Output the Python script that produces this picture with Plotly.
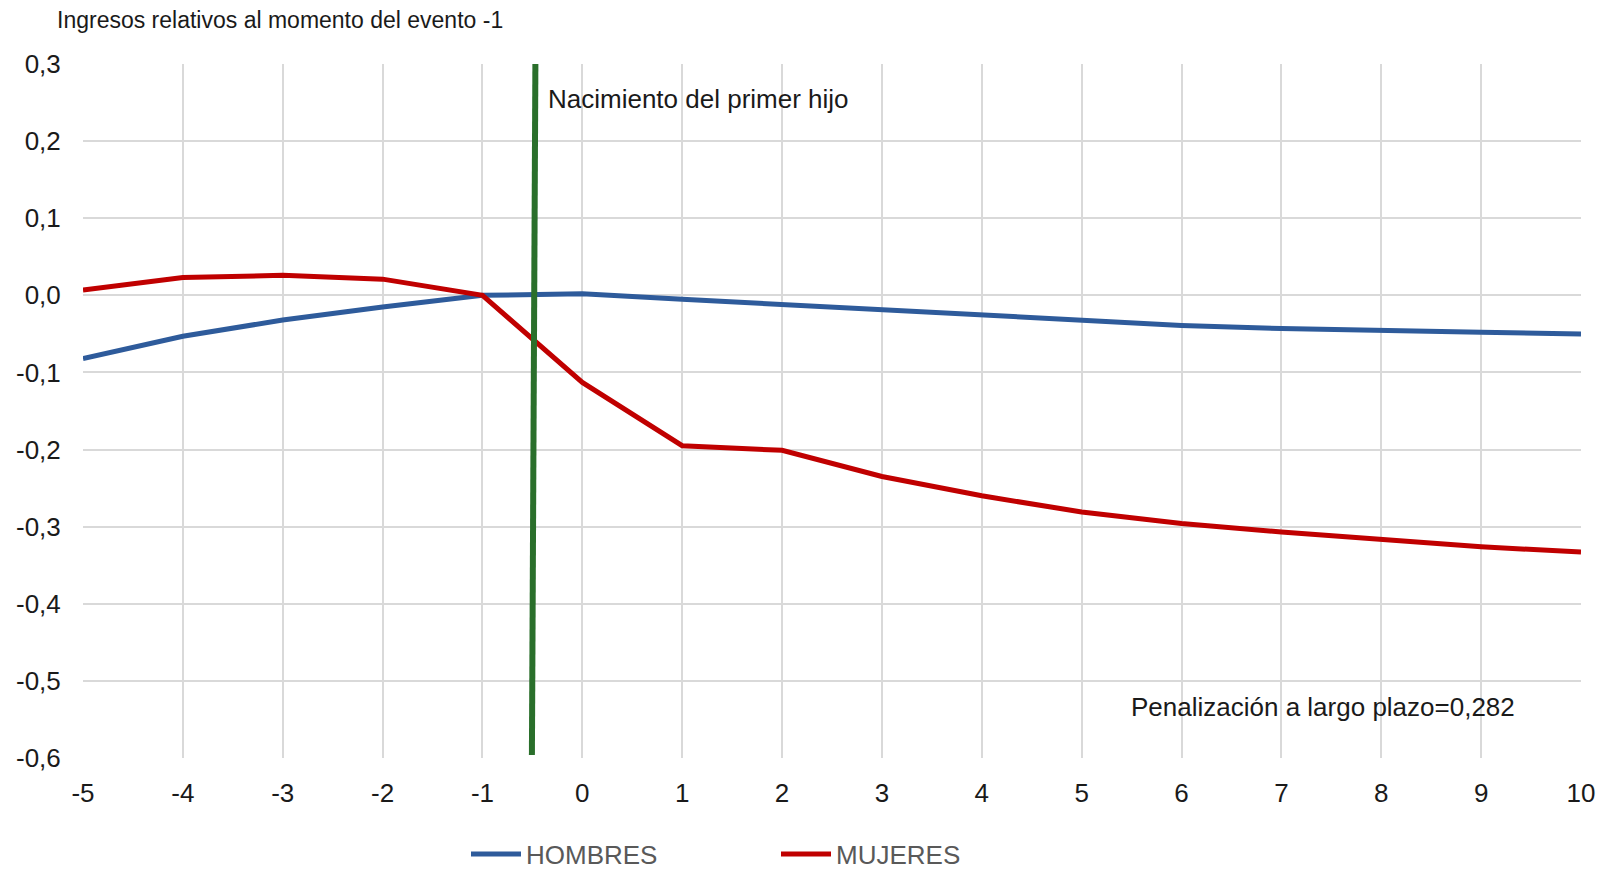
import plotly.graph_objects as go

# Data
periodos = [-5, -4, -3, -2, -1, 0, 1, 2, 3, 4, 5, 6, 7, 8, 9, 10]
hombres = [-0.082, -0.053, -0.032, -0.015, 0.0, 0.002, -0.005, -0.012, -0.019, -0.026,
           -0.033, -0.039, -0.043, -0.046, -0.048, -0.050]
mujeres = [0.007, 0.023, 0.026, 0.021, 0.0, -0.113, -0.195, -0.201, -0.235, -0.260,
           -0.281, -0.296, -0.307, -0.317, -0.326, -0.333]
evento_x = [-0.47, -0.505]
evento_y = [0.304, -0.596]
y_ticks = [0.3, 0.2, 0.1, 0.0, -0.1, -0.2, -0.3, -0.4, -0.5, -0.6]
y_ticktext = ["0,3", "0,2", "0,1", "0,0", "-0,1", "-0,2", "-0,3", "-0,4", "-0,5", "-0,6"]
x_ticks = periodos
x_ticktext = [str(v) for v in periodos]

FONT = "Liberation Sans, Arial, sans-serif"
W, H = 1601, 861  # page body has an 8px margin

fig = go.Figure()
fig.add_trace(go.Scatter(x=periodos, y=hombres, mode="lines", name="HOMBRES",
                         line=dict(color="#2e5b9b", width=5)))
fig.add_trace(go.Scatter(x=periodos, y=mujeres, mode="lines", name="MUJERES",
                         line=dict(color="#c00000", width=5)))
fig.add_trace(go.Scatter(x=evento_x, y=evento_y, mode="lines", showlegend=False,
                         line=dict(color="#2a6f2b", width=6), cliponaxis=False,
                         hoverinfo="skip"))

fig.add_annotation(x=-0.36, y=0.2545, xref="x", yref="y", text="Nacimiento del primer hijo",
                   showarrow=False, xanchor="left", yanchor="middle",
                   font=dict(family=FONT, size=26, color="#1a1a1a"))
fig.add_annotation(x=5.47, y=-0.534, xref="x", yref="y", text="Penalización a largo plazo=0,282",
                   showarrow=False, xanchor="left", yanchor="middle",
                   font=dict(family=FONT, size=26, color="#1a1a1a"))

fig.update_layout(
    width=W, height=H,
    paper_bgcolor="white", plot_bgcolor="white",
    margin=dict(l=75, r=W - 1573, t=56, b=H - 750, autoexpand=False),
    title=dict(text="Ingresos relativos al momento del evento -1", x=49/W, xanchor="left",
               xref="container", y=1-12/H, yref="container", yanchor="middle",
               font=dict(family=FONT, size=23, color="#1a1a1a")),
    xaxis=dict(range=[-5, 10], tickvals=x_ticks, ticktext=x_ticktext, showgrid=True,
               gridcolor="#d9d9d9", gridwidth=1.5, zeroline=False, showline=False,
               tickfont=dict(family=FONT, size=26, color="#1a1a1a"),
               ticks="outside", ticklen=12, tickcolor="rgba(0,0,0,0)",
               automargin=False, fixedrange=True),
    yaxis=dict(range=[-0.6, 0.3], tickvals=y_ticks, ticktext=y_ticktext, showgrid=True,
               gridcolor="#d9d9d9", gridwidth=1.5, zeroline=False, showline=False,
               tickfont=dict(family=FONT, size=26, color="#1a1a1a"),
               ticks="outside", ticklen=16, tickcolor="rgba(0,0,0,0)",
               automargin=False, fixedrange=True),
    legend=dict(orientation="h", xref="container", yref="container", x=458/W, xanchor="left",
                y=1-846/H, yanchor="middle",
                font=dict(family=FONT, size=26, color="#595959"),
                entrywidth=245, entrywidthmode="pixels", itemwidth=50,
                bgcolor="rgba(0,0,0,0)"),
    showlegend=True,
)

fig.write_html("out.html")
